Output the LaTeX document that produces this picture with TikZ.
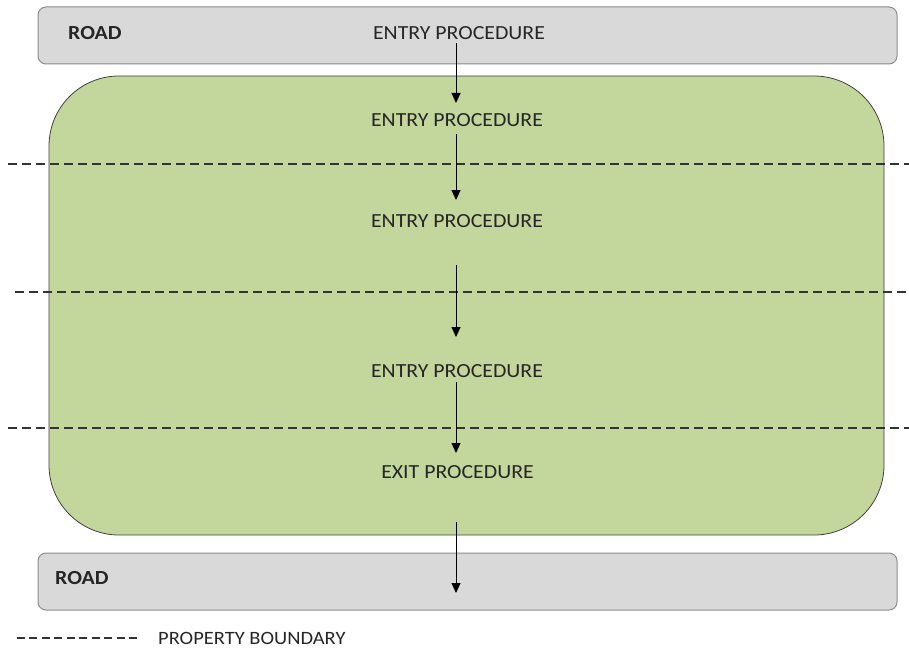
\documentclass[tikz,border=0pt]{standalone}
\usepackage{fontspec}
\setmainfont[FakeStretch=1.09]{Carlito}
\usepackage{xcolor}
\usepackage{tikz}
\usetikzlibrary{arrows.meta}

\definecolor{sitegreen}{HTML}{C3D69B}
\definecolor{roadgray}{HTML}{D9D9D9}
\definecolor{roadedge}{HTML}{8C8C8C}
\definecolor{inktext}{HTML}{262626}

\begin{document}
\begin{tikzpicture}[x=1pt, y=-1pt, >={Triangle[width=9pt,length=10pt]},
    font=\fontsize{20}{24}\selectfont, text=inktext]
  \tikzset{
    road/.style={draw=roadedge, fill=roadgray, rounded corners=8pt, line width=1pt,
      minimum width=859pt, minimum height=57pt},
    site/.style={draw=black!75, fill=sitegreen, rounded corners=70pt, line width=0.8pt},
    boundary/.style={dash pattern=on 9pt off 5pt, line width=1.1pt, black!80},
    flow/.style={->, line width=0.9pt, black},
    proc/.style={inner sep=0pt},
    roadname/.style={inner sep=0pt, anchor=west, font=\fontsize{20}{24}\selectfont\bfseries}
  }
  \useasboundingbox (0,0) rectangle (909,647);
  % the two roads and the site between them
  \node[road] (roadtop) at (467.5,35.5) {};
  \node[road] (roadbot) at (467.5,581.5) {};
  \draw[site] (49,76) rectangle (884,535);
  % property boundaries
  \draw[boundary] (8,164) -- (909,164);
  \draw[boundary] (15,292) -- (909,292);
  \draw[boundary] (8,428) -- (909,428);
  % labels
  \node[roadname] (roadin) at (68,33) {ROAD};
  \node[roadname] (roadout) at (55,578) {ROAD};
  \node[proc] (entry0) at (459,33) {ENTRY PROCEDURE};
  \node[proc] (entry1) at (457,120.5) {ENTRY PROCEDURE};
  \node[proc] (entry2) at (457,221.5) {ENTRY PROCEDURE};
  \node[proc] (entry3) at (457,371.5) {ENTRY PROCEDURE};
  \node[proc] (exitp) at (457.5,472.5) {EXIT PROCEDURE};
  % flow from road to road
  \draw[flow] ([shift={(-3,10)}]entry0.center) -- ([shift={(-1,-17.5)}]entry1.center);
  \draw[flow] ([shift={(-1,13.5)}]entry1.center) -- ([shift={(-1,-21.5)}]entry2.center);
  \draw[flow] ([shift={(-1,43.5)}]entry2.center) -- ([shift={(-1,-34.5)}]entry3.center);
  \draw[flow] ([shift={(-1,10.5)}]entry3.center) -- ([shift={(-1.5,-19.5)}]exitp.center);
  \draw[flow] ([shift={(-1.5,49.5)}]exitp.center) -- ([shift={(-1.5,120.5)}]exitp.center);
  % legend
  \node[proc, anchor=west, font=\fontsize{18.8}{22}\selectfont] (legend) at (158,638) {PROPERTY BOUNDARY};
  \draw[boundary, dash pattern=on 8pt off 4.5pt] ([xshift=-21pt]legend.west) -- ++(-122,0);
\end{tikzpicture}
\end{document}
